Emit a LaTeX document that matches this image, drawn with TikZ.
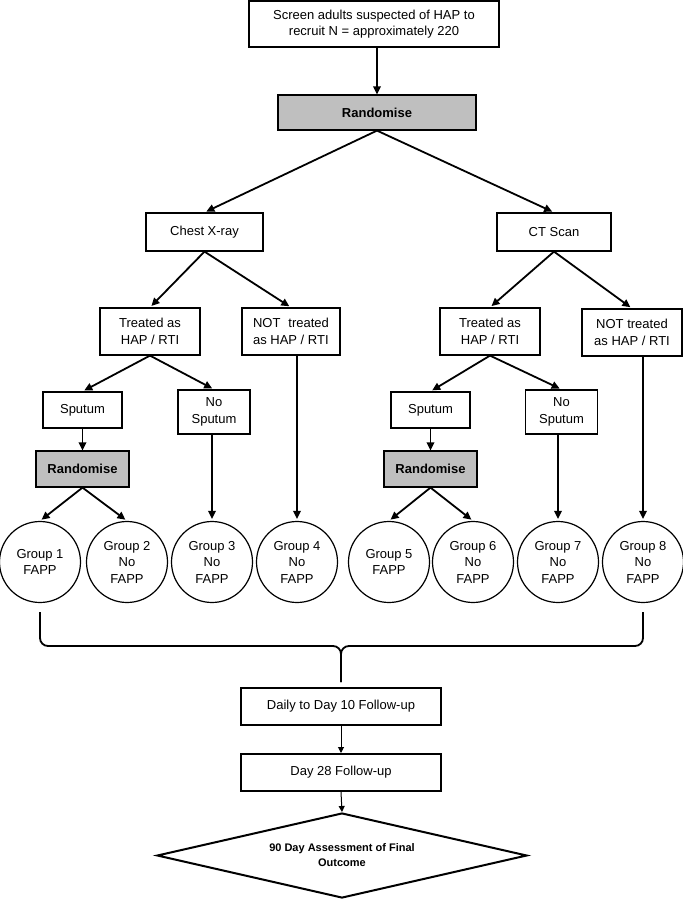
\documentclass[tikz,border=0pt]{standalone}
\usepackage{fontspec}
\setmainfont{Liberation Sans}
\usepackage{xcolor}
\usepackage{tikz}
\usetikzlibrary{shapes.geometric, arrows.meta}

\definecolor{randgrey}{gray}{0.75}

\tikzset{
    box/.style={draw, line width=1.2pt, align=center, inner sep=2pt, font=\fontsize{13}{16.5}\selectfont},
    randbox/.style={box, fill=randgrey, font=\fontsize{13}{16.5}\selectfont\bfseries},
    followbox/.style={box, line width=2pt, minimum width=200pt, minimum height=37pt},
    grp/.style={circle, draw, line width=1.2pt, minimum size=81pt, inner sep=0pt, align=center, font=\fontsize{13}{16.5}\selectfont},
    arr/.style={-{Triangle[length=8pt,width=7.5pt]}, line width=1.8pt, shorten >=2pt},
    thinarr/.style={-{Triangle[length=6pt,width=6pt]}, line width=1pt},
    brace/.style={line width=1.8pt, rounded corners=8pt}
}

\begin{document}
\begin{tikzpicture}[x=1pt, y=-1pt]
    \useasboundingbox (0,0) rectangle (683,900);

    % screening and first randomisation
    \node[box, minimum width=250pt, minimum height=46pt] (screen) at (374,24) {Screen adults suspected of HAP to\\recruit N = approximately 220};
    \node[randbox, minimum width=198pt, minimum height=35pt] (rand) at (377,112.5) {Randomise};

    % imaging arms
    \node[box, minimum width=117pt, minimum height=38pt] (cxr) at (204.5,232) {Chest X-ray};
    \node[box, minimum width=114pt, minimum height=38pt] (ct) at (554,232) {CT Scan};

    % treated / not treated
    \node[box, minimum width=100pt, minimum height=47pt] (trL) at (150,331.5) {Treated as\\HAP / RTI};
    \node[box, minimum width=98pt, minimum height=47pt, align=left] (ntL) at (291,331.5) {NOT\hspace{8pt}treated\\as HAP / RTI};
    \node[box, minimum width=100pt, minimum height=47pt] (trR) at (490,331.5) {Treated as\\HAP / RTI};
    \node[box, minimum width=100pt, minimum height=47pt] (ntR) at (632,332.5) {NOT treated\\as HAP / RTI};

    % sputum boxes
    \node[box, minimum width=79pt, minimum height=36pt] (spL) at (82.5,410) {Sputum};
    \node[box, minimum width=72pt, minimum height=44pt] (nspL) at (214,412) {No\\Sputum};
    \node[box, minimum width=79pt, minimum height=36pt] (spR) at (430.5,410) {Sputum};
    \node[box, minimum width=72pt, minimum height=44pt] (nspR) at (561.5,412) {No\\Sputum};

    % second randomisation
    \node[randbox, minimum width=93pt, minimum height=36pt] (rdL) at (82.5,469) {Randomise};
    \node[randbox, minimum width=93pt, minimum height=36pt] (rdR) at (430.5,469) {Randomise};

    % groups
    \node[grp] (g1) at (40,562) {Group 1\\FAPP};
    \node[grp] (g2) at (127,562) {Group 2\\No\\FAPP};
    \node[grp] (g3) at (212,562) {Group 3\\No\\FAPP};
    \node[grp] (g4) at (297,562) {Group 4\\No\\FAPP};
    \node[grp] (g5) at (389,562) {Group 5\\FAPP};
    \node[grp] (g6) at (473,562) {Group 6\\No\\FAPP};
    \node[grp] (g7) at (558,562) {Group 7\\No\\FAPP};
    \node[grp] (g8) at (643,562) {Group 8\\No\\FAPP};

    % follow-up
    \node[followbox] (daily) at (341,706.5) {Daily to Day 10 Follow-up};
    \node[followbox] (day28) at (341,772.5) {Day 28 Follow-up};
    \node[diamond, draw, line width=2pt, aspect=4.35, minimum width=370pt, minimum height=85pt, inner sep=0pt, align=center, font=\fontsize{11}{15}\selectfont\bfseries] (final) at (342,855.5) {90 Day Assessment of Final\\Outcome};

    % arrows
    \draw[arr, shorten >=0pt] (rand.north |- screen.south) -- (rand.north);
    \draw[arr] (rand.south) -- (cxr.north);
    \draw[arr] (rand.south) -- (ct.north);
    \draw[arr] (cxr.south) -- (trL.north);
    \draw[arr] (cxr.south) -- (ntL.north);
    \draw[arr] (ct.south) -- (trR.north);
    \draw[arr] (ct.south) -- (ntR.north);
    \draw[arr] (trL.south) -- (spL.north);
    \draw[arr] (trL.south) -- (nspL.north);
    \draw[arr] (trR.south) -- (spR.north);
    \draw[arr] (trR.south) -- (nspR.north);
    \draw[arr, shorten >=0pt] (spL.south) -- (rdL.north);
    \draw[arr, shorten >=0pt] (spR.south) -- (rdR.north);
    \draw[arr] (rdL.south) -- (g1.north);
    \draw[arr] (rdL.south) -- (g2.north);
    \draw[arr] (rdR.south) -- (g5.north);
    \draw[arr] (rdR.south) -- (g6.north);
    \draw[arr] (g3.north |- nspL.south) -- (g3.north);
    \draw[arr] (g4.north |- ntL.south) -- (g4.north);
    \draw[arr] (g7.north |- nspR.south) -- (g7.north);
    \draw[arr] (g8.north |- ntR.south) -- (g8.north);

    % brace gathering all groups
    \coordinate (bl) at ([yshift=-9pt]g1.south);
    \coordinate (br) at ([yshift=-9pt]g8.south);
    \coordinate (tip) at ([yshift=5pt]daily.north);
    \coordinate (mid) at ([yshift=36pt]tip);
    \draw[brace] (bl) |- (mid) -- (tip);
    \draw[brace] (br) |- (mid) -- (tip);

    \draw[thinarr] (daily.south) -- (day28.north);
    \draw[thinarr] (day28.south) -- (final.north);
\end{tikzpicture}
\end{document}
